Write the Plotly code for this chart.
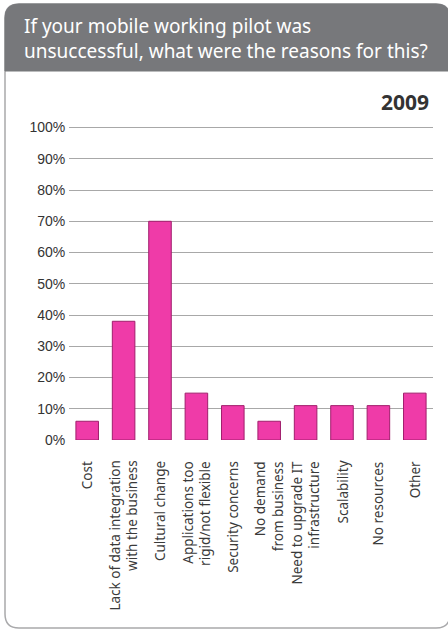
import plotly.graph_objects as go

categories = [
    "Cost",
    "Lack of data integration<br>with the business",
    "Cultural change",
    "Applications too<br>rigid/not flexible",
    "Security concerns",
    "No demand<br>from business",
    "Need to upgrade IT<br>infrastructure",
    "Scalability",
    "No resources",
    "Other",
]
values = [6, 38, 70, 15, 11, 6, 11, 11, 11, 15]
y_ticks = [0, 10, 20, 30, 40, 50, 60, 70, 80, 90, 100]
y_ticklabels = [f"{v}%" for v in y_ticks]
title_lines = ["If your mobile working pilot was", "unsuccessful, what were the reasons for this?"]
year_label = "2009"

W, H = 448, 630
L, R, T, B = 69, 15, 126, 190
pw, ph = W - L - R, H - T - B


def px(x):
    return (x - L) / pw


def py(y):
    return (H - B - y) / ph


def rrect(x0, y0, x1, y1, rt, rb):
    # rounded rectangle path in pixel coords -> paper coords
    pts = []
    pts.append(f"M {px(x0)} {py(y0 + rt)}")
    pts.append(f"Q {px(x0)} {py(y0)} {px(x0 + rt)} {py(y0)}")
    pts.append(f"L {px(x1 - rt)} {py(y0)}")
    pts.append(f"Q {px(x1)} {py(y0)} {px(x1)} {py(y0 + rt)}")
    pts.append(f"L {px(x1)} {py(y1 - rb)}")
    if rb:
        pts.append(f"Q {px(x1)} {py(y1)} {px(x1 - rb)} {py(y1)}")
    pts.append(f"L {px(x0 + rb)} {py(y1)}")
    if rb:
        pts.append(f"Q {px(x0)} {py(y1)} {px(x0)} {py(y1 - rb)}")
    pts.append("Z")
    return " ".join(pts)


fig = go.Figure()
fig.add_trace(go.Bar(
    x=categories,
    y=values,
    marker=dict(color="#ef3ba8", line=dict(color="#a01e6c", width=1)),
    width=0.62,
    hovertemplate="%{x}: %{y}%<extra></extra>",
))

shapes = [
    # panel border
    dict(type="path", xref="paper", yref="paper", path=rrect(5, 4, 450, 628, 14, 14),
         line=dict(color="#a9a9ab", width=1.5), fillcolor="white", layer="below"),
    # header band
    dict(type="path", xref="paper", yref="paper", path=rrect(5, 4, 450, 71, 14, 0),
         line=dict(color="#77787b", width=1), fillcolor="#77787b", layer="below"),
]

annotations = [
    dict(xref="paper", yref="paper", x=px(23), y=py(38), xanchor="left", yanchor="middle",
         text="<br>".join(title_lines), showarrow=False, align="left", borderpad=0,
         font=dict(family="Noto Sans", size=19, color="white")),
    dict(xref="paper", yref="paper", x=px(431), y=py(102), xanchor="right", yanchor="middle",
         text=f"<b>{year_label}</b>", showarrow=False,
         font=dict(family="Noto Sans", size=21, color="#333333")),
]

# category labels, rotated, top-aligned under each bar
for cat in categories:
    annotations.append(dict(
        xref="x", yref="paper", x=cat, y=py(460), xanchor="center", yanchor="top",
        text=cat, textangle=-90, showarrow=False, align="right",
        borderpad=0,
        font=dict(family="Noto Sans", size=13.5, color="#3a3a3a"),
    ))

fig.update_layout(
    width=W, height=H,
    margin=dict(l=L, r=R, t=T, b=B),
    paper_bgcolor="white",
    plot_bgcolor="rgba(0,0,0,0)",
    showlegend=False,
    bargap=0.38,
    shapes=shapes,
    annotations=annotations,
    xaxis=dict(
        showticklabels=False,
        showgrid=False, showline=False, zeroline=False,
        range=[-0.5, 9.5],
    ),
    yaxis=dict(
        range=[0, 100.5],
        tickvals=y_ticks,
        ticktext=y_ticklabels,
        tickfont=dict(family="Liberation Sans", size=14, color="#333333"),
        showgrid=True, gridcolor="#a8a8a8", gridwidth=1,
        zeroline=False, showline=False,
        ticks="outside", ticklen=0, tickcolor="rgba(0,0,0,0)",
    ),
)

fig.write_html(
    "out.html",
    config={"displayModeBar": False},
    post_script="document.body.style.margin='0';document.body.style.overflow='hidden';",
)
